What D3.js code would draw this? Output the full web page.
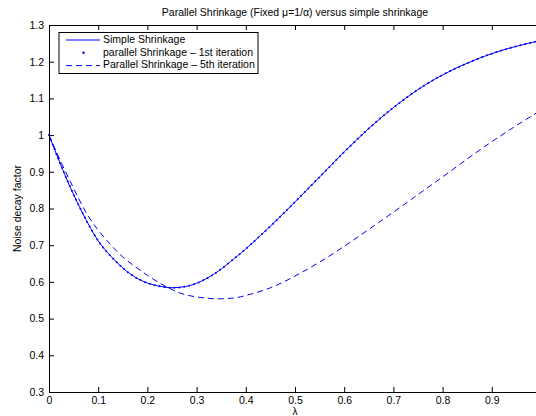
<!DOCTYPE html>
<html>
<head>
<meta charset="utf-8">
<script src="https://cdn.jsdelivr.net/npm/d3@7"></script>
<style>
  body { margin: 0; background: #fff; }
  text { font-family: "Liberation Sans", Arial, sans-serif; }
</style>
</head>
<body>
<div id="graph"></div>
<script>
// lambda values (x) and noise decay factor
const lambdas = [0, 0.025, 0.05, 0.075, 0.1, 0.125, 0.15, 0.175, 0.2, 0.225, 0.25, 0.275, 0.3, 0.325, 0.35, 0.375, 0.4,
    0.45, 0.5, 0.55, 0.6, 0.65, 0.7, 0.75, 0.8, 0.85, 0.9, 0.95, 1.0];
const simpleShrink = [1.0, 0.915, 0.838, 0.770, 0.712, 0.671, 0.638, 0.613, 0.597, 0.588, 0.584, 0.587, 0.596, 0.613, 0.635, 0.662, 0.690,
    0.752, 0.818, 0.886, 0.954, 1.018, 1.075, 1.124, 1.164, 1.196, 1.222, 1.242, 1.258];
// 1st iteration lies on top of the simple shrinkage curve
const parallel1 = [1.0, 0.915, 0.838, 0.770, 0.712, 0.671, 0.638, 0.613, 0.597, 0.588, 0.584, 0.587, 0.596, 0.613, 0.635, 0.662, 0.690,
    0.752, 0.818, 0.886, 0.954, 1.018, 1.075, 1.124, 1.164, 1.196, 1.222, 1.242, 1.258];
const parallel5 = [1.0, 0.925, 0.855, 0.790, 0.741, 0.702, 0.668, 0.642, 0.618, 0.597, 0.579, 0.566, 0.559, 0.555, 0.554, 0.556, 0.563,
    0.584, 0.616, 0.654, 0.697, 0.743, 0.790, 0.838, 0.886, 0.935, 0.982, 1.026, 1.068];

const xTicks = [0, 0.1, 0.2, 0.3, 0.4, 0.5, 0.6, 0.7, 0.8, 0.9, 1];
const xTickLabels = ['0', '0.1', '0.2', '0.3', '0.4', '0.5', '0.6', '0.7', '0.8', '0.9', ''];
const yTicks = [0.3, 0.4, 0.5, 0.6, 0.7, 0.8, 0.9, 1, 1.1, 1.2, 1.3];
const legendLabels = ['Simple Shrinkage', 'parallel Shrinkage \u2013 1st iteration', 'Parallel Shrinkage \u2013 5th iteration'];

const w = 536;
const h = 416;
const margin = {top: 25, right: -5, bottom: 24, left: 49};
const blue = '#0000ff';
const fontSize = '10.5px';

const svg = d3.select('#graph')
    .append('svg')
    .attr('width', w)
    .attr('height', h);

const xScale = d3.scaleLinear()
    .domain([0, 1])
    .range([margin.left, w - margin.right]);

const yScale = d3.scaleLinear()
    .domain([0.3, 1.3])
    .range([h - margin.bottom, margin.top]);

const x0 = xScale(0), x1 = xScale(1), y0 = yScale(0.3), y1 = yScale(1.3);

// curves
const line = (vals) => d3.line()
    .x((d, i) => xScale(lambdas[i]))
    .y((d) => yScale(d))
    .curve(d3.curveNatural)(vals);

svg.append('path')
    .attr('d', line(simpleShrink))
    .attr('fill', 'none')
    .attr('stroke', blue)
    .attr('stroke-width', 1);

svg.append('path')
    .attr('d', line(parallel1))
    .attr('fill', 'none')
    .attr('stroke', blue)
    .attr('stroke-width', 2)
    .attr('stroke-linecap', 'round')
    .attr('stroke-dasharray', '0,5');

svg.append('path')
    .attr('d', line(parallel5))
    .attr('fill', 'none')
    .attr('stroke', blue)
    .attr('stroke-width', 1)
    .attr('stroke-dasharray', '6,4');

// axes: ticks inside, on all four sides
const xAxisB = d3.axisBottom(xScale).tickValues(xTicks).tickSizeInner(-5).tickSizeOuter(0).tickPadding(4)
    .tickFormat((d, i) => xTickLabels[i]);
const xAxisT = d3.axisTop(xScale).tickValues(xTicks).tickSizeInner(-5).tickSizeOuter(0).tickFormat('');
const yAxisL = d3.axisLeft(yScale).tickValues(yTicks).tickSizeInner(-5).tickSizeOuter(0).tickPadding(5)
    .tickFormat((d) => String(d));
const yAxisR = d3.axisRight(yScale).tickValues(yTicks).tickSizeInner(-5).tickSizeOuter(0).tickFormat('');

const gx = svg.append('g').attr('transform', 'translate(0,' + y0 + ')').call(xAxisB);
svg.append('g').attr('transform', 'translate(0,' + y1 + ')').call(xAxisT);
svg.append('g').attr('transform', 'translate(' + x0 + ',0)').call(yAxisL);
svg.append('g').attr('transform', 'translate(' + x1 + ',0)').call(yAxisR);

svg.selectAll('.domain').attr('stroke', '#000').attr('stroke-width', 1);
svg.selectAll('.tick line').attr('stroke', '#000');
svg.selectAll('.tick text').attr('fill', '#000').style('font-size', fontSize)
    .style('font-family', '"Liberation Sans", Arial, sans-serif');
gx.selectAll('.tick text').attr('dy', '0.75em');

// labels
svg.append('text')
    .attr('x', (x0 + x1) / 2)
    .attr('y', 13)
    .attr('text-anchor', 'middle')
    .attr('dominant-baseline', 'middle')
    .style('font-size', fontSize)
    .text('Parallel Shrinkage (Fixed \u03bc=1/\u03b1) versus simple shrinkage');

svg.append('text')
    .attr('x', xScale(0.5))
    .attr('y', 412)
    .attr('text-anchor', 'middle')
    .attr('dominant-baseline', 'middle')
    .style('font-size', '10px')
    .text('\u03bb');

svg.append('text')
    .attr('transform', 'translate(18,' + ((y0 + y1) / 2) + ') rotate(-90)')
    .attr('text-anchor', 'middle')
    .attr('dominant-baseline', 'middle')
    .style('font-size', fontSize)
    .text('Noise decay factor');

// legend
const legend = svg.append('g');
legend.append('rect')
    .attr('x', 59)
    .attr('y', 32.5)
    .attr('width', 199)
    .attr('height', 41)
    .attr('fill', '#fff')
    .attr('stroke', '#000')
    .attr('stroke-width', 1);

const rowY = (i) => 40 + i * 12.8;
legend.append('line')
    .attr('x1', 66).attr('x2', 100).attr('y1', rowY(0)).attr('y2', rowY(0))
    .attr('stroke', blue);
legend.append('circle')
    .attr('cx', 83.5).attr('cy', rowY(1)).attr('r', 1.2)
    .attr('fill', blue);
legend.append('line')
    .attr('x1', 66).attr('x2', 100).attr('y1', rowY(2)).attr('y2', rowY(2))
    .attr('stroke', blue)
    .attr('stroke-dasharray', '6,4');

legend.selectAll('text.lab')
    .data(legendLabels)
    .enter()
    .append('text')
    .attr('class', 'lab')
    .attr('x', 103)
    .attr('y', (d, i) => rowY(i))
    .attr('dominant-baseline', 'middle')
    .style('font-size', fontSize)
    .text((d) => d);
</script>
</body>
</html>
